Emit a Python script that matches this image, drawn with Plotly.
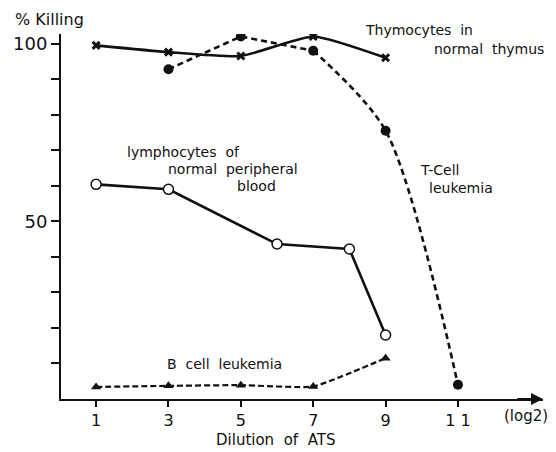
import plotly.graph_objects as go

# Data
thy_x = [1, 3, 5, 7, 9]
thy_y = [99.5, 97.6, 96.5, 102.0, 96.0]

tcell_x = [3, 5, 7, 9, 11]
tcell_y = [92.8, 102.0, 98.0, 75.5, 4.0]

lym_x = [1, 3, 6, 8, 9]
lym_y = [60.4, 59.0, 43.6, 42.2, 18.0]

bcell_x = [1, 3, 5, 7, 9]
bcell_y = [3.4, 3.7, 3.9, 3.5, 11.5]

x_ticks = [1, 3, 5, 7, 9, 11]
x_ticktext = ["1", "3", "5", "7", "9", "1 1"]
y_ticks = [10, 20, 30, 40, 50, 60, 70, 80, 90, 100]
y_ticktext = ["", "", "", "", "50", "", "", "", "", "100"]

FONT = "DejaVu Sans"
BLACK = "#111111"

# plot-area geometry in pixels
L, R, T, B = 61, 13, 34, 53
W, H = 556, 452
PW, PH = W - L - R, H - T - B

fig = go.Figure()

fig.add_trace(go.Scatter(
    x=thy_x, y=thy_y, mode="lines+markers",
    line=dict(color=BLACK, width=2.6, shape="spline", smoothing=0.5),
    marker=dict(symbol="x-thin", size=7, line=dict(width=3, color=BLACK), color=BLACK),
    showlegend=False))

# T-cell leukemia: straight first part, curved tail
fig.add_trace(go.Scatter(
    x=tcell_x[:3], y=tcell_y[:3], mode="lines",
    line=dict(color=BLACK, width=2.6, dash="6px,4px"),
    showlegend=False))
fig.add_trace(go.Scatter(
    x=tcell_x[2:], y=tcell_y[2:], mode="lines",
    line=dict(color=BLACK, width=2.6, dash="6px,4px", shape="spline", smoothing=0.8),
    showlegend=False))
fig.add_trace(go.Scatter(
    x=tcell_x, y=tcell_y, mode="markers",
    marker=dict(symbol="circle", size=10, color=BLACK),
    showlegend=False))

fig.add_trace(go.Scatter(
    x=lym_x, y=lym_y, mode="lines+markers",
    line=dict(color=BLACK, width=2.6),
    marker=dict(symbol="circle", size=10, color="white", line=dict(width=1.5, color=BLACK)),
    showlegend=False))

fig.add_trace(go.Scatter(
    x=bcell_x, y=bcell_y, mode="lines+markers",
    line=dict(color=BLACK, width=2.2, dash="6px,3px", shape="spline", smoothing=0.4),
    marker=dict(symbol="triangle-up", size=9, color=BLACK),
    showlegend=False))

annos = [
    dict(x=363, y=30, text="Thymocytes  in", xanchor="left", yanchor="middle", size=14),
    dict(x=432, y=49, text="normal  thymus", xanchor="left", yanchor="middle", size=14),
    dict(x=125, y=152, text="lymphocytes  of", xanchor="left", yanchor="middle", size=14),
    dict(x=166, y=169, text="normal  peripheral", xanchor="left", yanchor="middle", size=14),
    dict(x=235, y=186, text="blood", xanchor="left", yanchor="middle", size=14),
    dict(x=418, y=170, text="T-Cell", xanchor="left", yanchor="middle", size=14),
    dict(x=427, y=188, text="leukemia", xanchor="left", yanchor="middle", size=14),
    dict(x=165, y=364, text="B  cell  leukemia", xanchor="left", yanchor="middle", size=14),
    dict(x=502, y=416, text="(log2)", xanchor="left", yanchor="middle", size=15),
    dict(x=275, y=451, text="Dilution  of  ATS", xanchor="center", yanchor="bottom", size=15),
    dict(x=13, y=20, text="% Killing", xanchor="left", yanchor="middle", size=16),
]
for a in annos:
    fig.add_annotation(x=(a["x"] - L) / PW, y=(H - B - a["y"]) / PH,
                       xref="paper", yref="paper",
                       text=a["text"], showarrow=False,
                       xanchor=a["xanchor"], yanchor=a["yanchor"],
                       font=dict(family=FONT, size=a["size"], color=BLACK))

# x-axis arrow
fig.add_annotation(x=13.35, y=0, ax=12.6, ay=0, xref="x", yref="y", axref="x", ayref="y",
                   text="", showarrow=True, arrowhead=2, arrowsize=1.2, arrowwidth=2,
                   arrowcolor=BLACK)

fig.update_layout(
    width=W, height=H,
    margin=dict(l=L, r=R, t=T, b=B),
    paper_bgcolor="white", plot_bgcolor="white",
    font=dict(family=FONT, color=BLACK),
    xaxis=dict(range=[0.03, 13.35], showgrid=False, zeroline=False,
               showline=True, linecolor=BLACK, linewidth=2,
               tickvals=x_ticks, ticktext=x_ticktext, ticks="outside",
               ticklen=6, tickwidth=2, tickcolor=BLACK,
               tickfont=dict(family=FONT, size=16, color=BLACK)),
    yaxis=dict(range=[0, 102.7], showgrid=False, zeroline=False,
               showline=True, linecolor=BLACK, linewidth=2,
               tickvals=y_ticks, ticktext=y_ticktext, ticks="outside",
               ticklen=8, tickwidth=2, tickcolor=BLACK,
               tickfont=dict(family=FONT, size=18, color=BLACK)),
)

fig.write_html("out.html", config={"displayModeBar": False},
               post_script="document.body.style.margin='0';document.body.style.overflow='hidden';")
